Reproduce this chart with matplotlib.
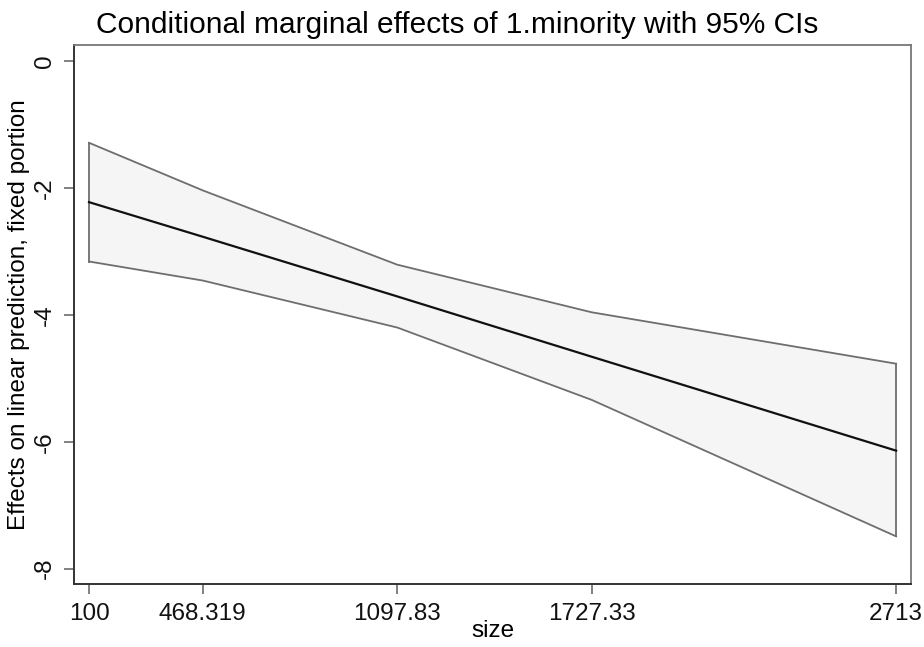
import matplotlib
matplotlib.use("agg")
import matplotlib.pyplot as plt

plt.rcParams["font.family"] = ["Liberation Sans", "DejaVu Sans"]

# margins at representative values of size
size = [100, 468.319, 1097.83, 1727.33, 2713]
effect = [-2.225, -2.77, -3.71, -4.66, -6.14]
ci_upper = [-1.29, -2.04, -3.21, -3.96, -4.77]
ci_lower = [-3.16, -3.46, -4.20, -5.34, -7.49]

xtick_labels = ["100", "468.319", "1097.83", "1727.33", "2713"]
yticks = [0, -2, -4, -6, -8]

fig = plt.figure(figsize=(9.24, 6.47), dpi=100)
ax = fig.add_axes([0.0801, 0.0974, 0.906, 0.833])

ax.fill_between(size, ci_lower, ci_upper, facecolor="#f5f5f5", edgecolor="none", zorder=1)
ax.plot(size, ci_upper, color="#6e6e6e", lw=1.3, zorder=2)
ax.plot(size, ci_lower, color="#6e6e6e", lw=1.3, zorder=2)
ax.plot([size[0], size[0]], [ci_lower[0], ci_upper[0]], color="#6e6e6e", lw=1.3, zorder=2)
ax.plot([size[-1], size[-1]], [ci_lower[-1], ci_upper[-1]], color="#6e6e6e", lw=1.3, zorder=2)
ax.plot(size, effect, color="#111111", lw=1.6, zorder=3)

ax.set_xlim(51.4, 2761.6)
ax.set_ylim(-8.24, 0.25)

ax.set_xticks(size)
ax.set_xticklabels(xtick_labels)
ax.set_yticks(yticks)
ax.set_yticklabels([str(v) for v in yticks], rotation=90, va="center")
ax.tick_params(axis="both", direction="out", length=7, width=1.3, color="#777777",
               labelsize=17.5, labelcolor="#111111")
ax.tick_params(axis="x", pad=7)
ax.tick_params(axis="y", pad=6)

for side in ["left", "bottom"]:
    ax.spines[side].set_color("#333333")
    ax.spines[side].set_linewidth(1.4)
for side in ["top", "right"]:
    ax.spines[side].set_color("#777777")
    ax.spines[side].set_linewidth(1.3)

ax.set_xlabel("size", fontsize=17.5, labelpad=-4)
ax.set_ylabel("Effects on linear prediction, fixed portion", fontsize=17.5, labelpad=3)
fig.text(457 / 924, 1 - 25 / 647, "Conditional marginal effects of 1.minority with 95% CIs",
         fontsize=21.5, ha="center", va="center")

fig.savefig("out.png", dpi=100)
